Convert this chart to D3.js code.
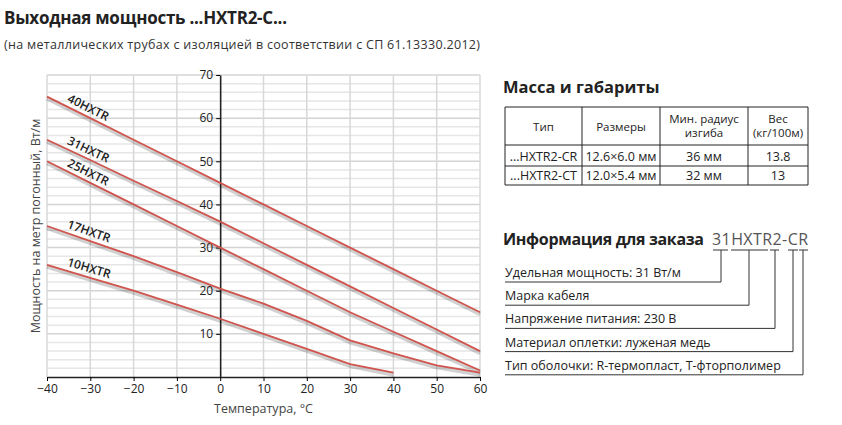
<!DOCTYPE html>
<html><head><meta charset="utf-8">
<script src="https://cdn.jsdelivr.net/npm/d3@7"></script>
<style>body{margin:0;background:#fff;font-family:"Open Sans",sans-serif}</style>
</head><body><svg id="c" width="842" height="425"></svg>
<script>
const temps=[-40,-30,-20,-10,0,10,20,30,40,50,60];
const seriesNames=["40HXTR","31HXTR","25HXTR","17HXTR","10HXTR"];
const s40=[65,60,55,50,45,40,35,30,25,20,15];
const s31=[55,50.3,45.5,40.8,36,31,26,21,16,11,6];
const s25=[50,45,40,35,30,25,20,15,10.5,6,1.5];
const s17=[35,31.5,28,24.3,20.5,17,13,8.5,5.5,2.7,1];
const s10=[26,23,20,16.8,13.5,10,6.5,3,1,null,null];
const yTicks=[10,20,30,40,50,60,70];
const tableHead=[["Тип"],["Размеры"],["Мин. радиус","изгиба"],["Вес","(кг/100м)"]];
const tableRows=[["...HXTR2-CR","12.6×6.0 мм","36 мм","13.8"],["...HXTR2-CT","12.0×5.4 мм","32 мм","13"]];
const orderItems=["Удельная мощность: 31 Вт/м","Марка кабеля","Напряжение питания: 230 В","Материал оплетки: луженая медь","Тип оболочки: R-термопласт, T-фторполимер"];

const svg=d3.select("#c");
const x=d3.scaleLinear().domain([-40,60]).range([47,480]);
const y=d3.scaleLinear().domain([0,70]).range([377,75]);
svg.append("text").attr("x",4).attr("y",24).attr("font-size",17).attr("font-weight","bold").attr("fill","#222").attr("textLength",283).text("Выходная мощность ...HXTR2-C...");
svg.append("text").attr("x",4).attr("y",49).attr("font-size",12.5).attr("fill","#333").attr("textLength",476).text("(на металлических трубах с изоляцией в соответствии с СП 61.13330.2012)");
const g=svg.append("g");
d3.range(2,70,2).forEach(v=>g.append("line").attr("x1",x(-40)).attr("x2",x(60)).attr("y1",y(v)).attr("y2",y(v)).attr("stroke",v%10==0?"#d4d4d4":"#e6e6e6").attr("stroke-width",1.5));
g.append("line").attr("x1",x(-40)).attr("x2",x(60)).attr("y1",y(70)).attr("y2",y(70)).attr("stroke","#d4d4d4").attr("stroke-width",1.5);
temps.forEach(t=>g.append("line").attr("x1",x(t)).attr("x2",x(t)).attr("y1",y(0)).attr("y2",y(70)).attr("stroke","#d8d8d8").attr("stroke-width",1.5));
const xa=svg.append("g").attr("transform",`translate(0,${y(0)})`).call(d3.axisBottom(x).tickValues(temps).tickSize(4).tickSizeOuter(0));
xa.select(".domain").attr("stroke","#222").attr("stroke-width",1.5);
xa.selectAll("text").attr("font-size",12).attr("font-family","Open Sans").attr("fill","#222");
const ya=svg.append("g").attr("transform",`translate(${x(0)},0)`).call(d3.axisLeft(y).tickValues(yTicks).tickSize(4).tickSizeOuter(0));
ya.select(".domain").attr("stroke","#222").attr("stroke-width",1.5);
ya.selectAll("text").attr("font-size",12).attr("font-family","Open Sans").attr("fill","#222");
svg.append("text").attr("x",x(10)).attr("y",413).attr("text-anchor","middle").attr("font-size",12.5).attr("fill","#444").text("Температура, °С");
svg.append("text").attr("transform","translate(40,226) rotate(-90)").attr("text-anchor","middle").attr("font-size",12.5).attr("fill","#444").text("Мощность на метр погонный, Вт/м");
const data=[s40,s31,s25,s17,s10];
const line=d3.line().defined(d=>d[1]!=null).x(d=>x(d[0])).y(d=>y(d[1]));
data.forEach((s,i)=>{
 const pts=temps.map((t,j)=>[t,s[j]]);
 svg.append("path").attr("d",line(pts)).attr("fill","none").attr("stroke","rgba(0,0,0,0.18)").attr("stroke-width",4).attr("transform","translate(0,2)");
 svg.append("path").attr("d",line(pts)).attr("fill","none").attr("stroke","#d0554e").attr("stroke-width",1.8);
 const ang=Math.atan2(y(s[1])-y(s[0]),x(-30)-x(-40))*180/Math.PI;
 svg.append("text").attr("transform",`translate(${x(-35.5)},${y(s[0]+(s[1]-s[0])*0.45)-5}) rotate(${ang})`).attr("font-size",12).attr("font-weight",600).attr("fill","#222").text(seriesNames[i]);
});
// table
svg.append("text").attr("x",503).attr("y",93).attr("font-size",16.5).attr("font-weight","bold").attr("fill","#222").text("Масса и габариты");
const cols=[505,582,660,748,808],rowsY=[107,145,166,185];
const tg=svg.append("g").attr("stroke","#222").attr("stroke-width",1);
rowsY.forEach(yy=>tg.append("line").attr("x1",505).attr("x2",808).attr("y1",yy).attr("y2",yy));
cols.forEach(xx=>tg.append("line").attr("x1",xx).attr("x2",xx).attr("y1",107).attr("y2",185));
tableHead.forEach((h,i)=>{const cx=(cols[i]+cols[i+1])/2;h.forEach((l,k)=>svg.append("text").attr("x",cx).attr("y",h.length==1?131:123+k*14).attr("text-anchor","middle").attr("font-size",11.5).attr("fill","#222").text(l));});
tableRows.forEach((r,ri)=>r.forEach((c,i)=>svg.append("text").attr("x",(cols[i]+cols[i+1])/2).attr("y",161+ri*19).attr("text-anchor","middle").attr("font-size",12.5).attr("fill","#222").text(c)));
// order
svg.append("text").attr("x",503).attr("y",245).attr("font-size",16).attr("font-weight","bold").attr("fill","#222").attr("textLength",201).text("Информация для заказа");
svg.append("text").attr("x",712).attr("y",245).attr("font-size",16).attr("fill","#555").attr("textLength",96).text("31HXTR2-CR");
const conX=[721,749,775,793,803];
const segs=[[713,728],[731,768],[770,779],[788,798],[799,808]];
segs.forEach(s=>svg.append("line").attr("x1",s[0]).attr("x2",s[1]).attr("y1",250).attr("y2",250).attr("stroke","#333"));
orderItems.forEach((t,i)=>{
 const yy=277+i*23.2;
 svg.append("text").attr("x",505).attr("y",yy).attr("font-size",12.5).attr("fill","#222").text(t);
 svg.append("path").attr("d",`M505,${yy+5}H${conX[i]}V250`).attr("fill","none").attr("stroke","#333");
});
</script></body></html>
